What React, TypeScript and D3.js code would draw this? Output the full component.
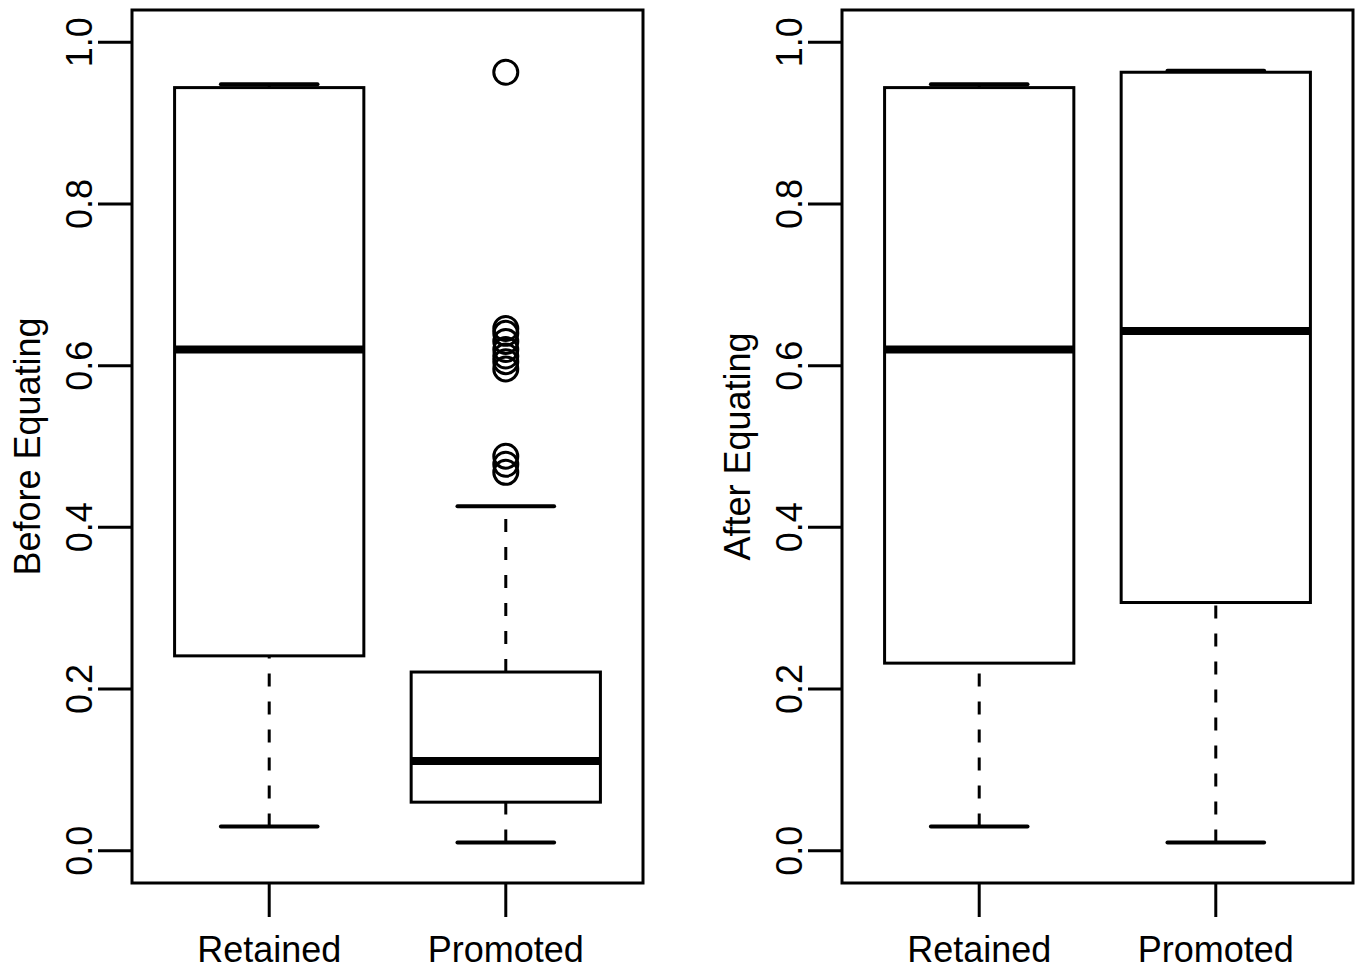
import { useEffect, useRef } from 'react';
import * as d3 from 'd3';

// group labels
const groups = ['Retained', 'Promoted'];
const yTicks = [0, 0.2, 0.4, 0.6, 0.8, 1.0];

// [lowerWhisker, q1, median, q3, upperWhisker]
const beforeRetained = [0.03, 0.241, 0.62, 0.944, 0.948];
const beforePromoted = [0.01, 0.06, 0.111, 0.221, 0.426];
const beforeRetainedOut: number[] = [];
const beforePromotedOut = [0.963, 0.646, 0.64, 0.63, 0.62, 0.612, 0.605, 0.596, 0.488, 0.478, 0.468];

const afterRetained = [0.03, 0.232, 0.62, 0.944, 0.948];
const afterPromoted = [0.01, 0.307, 0.643, 0.963, 0.965];
const afterRetainedOut: number[] = [];
const afterPromotedOut: number[] = [];

const panels = [
  { title: 'Before Equating', stats: [beforeRetained, beforePromoted], outs: [beforeRetainedOut, beforePromotedOut], left: 132, right: 643 },
  { title: 'After Equating', stats: [afterRetained, afterPromoted], outs: [afterRetainedOut, afterPromotedOut], left: 842, right: 1353 },
];

const top = 10;
const bottom = 883;
const font = '"Liberation Sans", Arial, sans-serif';

const App = () => {
  const ref = useRef<SVGSVGElement | null>(null);

  useEffect(() => {
    const svg = d3.select(ref.current);
    svg.selectAll('*').remove();

    const y = d3.scaleLinear().domain([-0.04, 1.04]).range([bottom, top]);

    panels.forEach(p => {
      const x = d3.scaleLinear().domain([0.42, 2.58]).range([p.left, p.right]);
      const g = svg.append('g');
      const bw = x(1.4) - x(1);

      // frame
      g.append('rect')
        .attr('x', p.left).attr('y', top)
        .attr('width', p.right - p.left).attr('height', bottom - top)
        .attr('fill', 'none').attr('stroke', '#000').attr('stroke-width', 3);

      // y axis
      yTicks.forEach(t => {
        g.append('line')
          .attr('x1', p.left - 34).attr('x2', p.left)
          .attr('y1', y(t)).attr('y2', y(t))
          .attr('stroke', '#000').attr('stroke-width', 3);
        g.append('text')
          .attr('transform', `translate(${p.left - 40},${y(t)}) rotate(-90)`)
          .attr('text-anchor', 'middle')
          .attr('font-family', font).attr('font-size', 36)
          .text(t.toFixed(1));
      });

      g.append('text')
        .attr('transform', `translate(${p.left - 92},${(top + bottom) / 2}) rotate(-90)`)
        .attr('text-anchor', 'middle')
        .attr('font-family', font).attr('font-size', 36)
        .text(p.title);

      // x axis
      groups.forEach((name, i) => {
        const cx = x(i + 1);
        g.append('line')
          .attr('x1', cx).attr('x2', cx)
          .attr('y1', bottom).attr('y2', bottom + 34)
          .attr('stroke', '#000').attr('stroke-width', 3);
        g.append('text')
          .attr('x', cx).attr('y', bottom + 79)
          .attr('text-anchor', 'middle')
          .attr('font-family', font).attr('font-size', 36)
          .text(name);

        const [lo, q1, med, q3, hi] = p.stats[i];
        // whiskers
        [[lo, q1], [q3, hi]].forEach(([a, b]) => {
          g.append('line')
            .attr('x1', cx).attr('x2', cx)
            .attr('y1', y(a)).attr('y2', y(b))
            .attr('stroke', '#000').attr('stroke-width', 3)
            .attr('stroke-dasharray', '13,15');
        });
        [lo, hi].forEach(v => {
          g.append('line')
            .attr('x1', cx - bw / 2 - 1).attr('x2', cx + bw / 2 + 1)
            .attr('y1', y(v)).attr('y2', y(v))
            .attr('stroke', '#000').attr('stroke-width', 4)
            .attr('stroke-linecap', 'round');
        });
        // box
        g.append('rect')
          .attr('x', cx - bw).attr('y', y(q3))
          .attr('width', bw * 2).attr('height', y(q1) - y(q3))
          .attr('fill', '#fff').attr('stroke', '#000').attr('stroke-width', 3);
        g.append('line')
          .attr('x1', cx - bw).attr('x2', cx + bw)
          .attr('y1', y(med)).attr('y2', y(med))
          .attr('stroke', '#000').attr('stroke-width', 8);
        // outliers
        g.selectAll(null)
          .data(p.outs[i])
          .enter().append('circle')
          .attr('cx', cx).attr('cy', d => y(d))
          .attr('r', 12)
          .attr('fill', 'none').attr('stroke', '#000').attr('stroke-width', 3);
      });
    });
  }, []);

  return (
    <svg
      ref={ref}
      width={1361}
      height={973}
      style={{ position: 'absolute', left: 0, top: 0, background: '#fff' }}
    />
  );
};

export default App;
